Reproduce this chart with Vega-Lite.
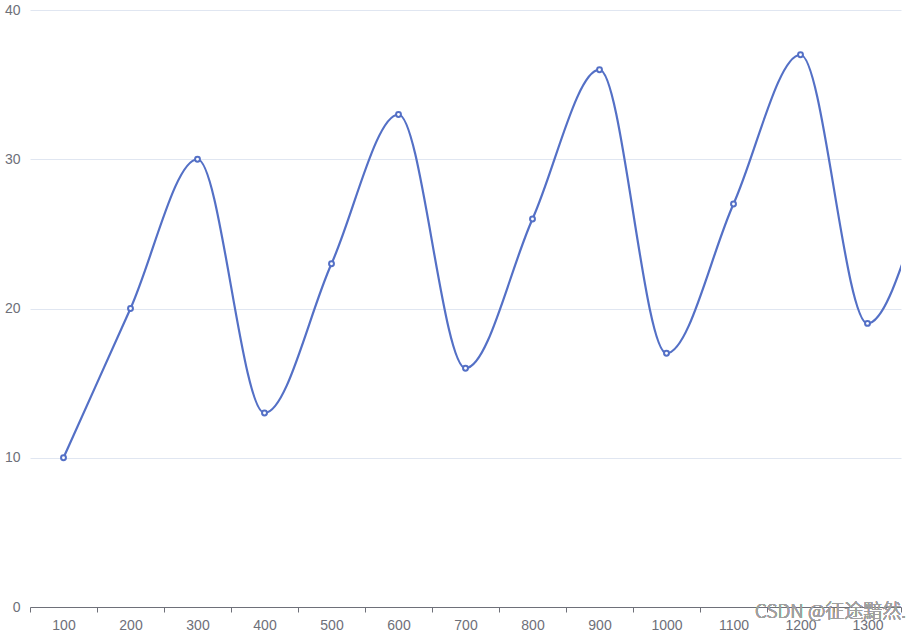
{
  "$schema": "https://vega.github.io/schema/vega-lite/v6.json",
  "width": 871,
  "height": 597,
  "autosize": {"type": "none"},
  "padding": {"left": 30, "top": 10, "right": 17, "bottom": 26},
  "background": "white",
  "config": {
    "view": {"stroke": null},
    "font": "Liberation Sans",
    "axis": {"labelFont": "Liberation Sans", "labelFontSize": 14, "labelColor": "#6E7079"}
  },
  "data": {
    "values": [
      {"x": 100, "y": 10},
      {"x": 200, "y": 20},
      {"x": 300, "y": 30},
      {"x": 400, "y": 13},
      {"x": 500, "y": 23},
      {"x": 600, "y": 33},
      {"x": 700, "y": 16},
      {"x": 800, "y": 26},
      {"x": 900, "y": 36},
      {"x": 1000, "y": 17},
      {"x": 1100, "y": 27},
      {"x": 1200, "y": 37},
      {"x": 1300, "y": 19},
      {"x": 1400, "y": 29},
      {"x": 1500, "y": 39}
    ]
  },
  "encoding": {
    "x": {
      "field": "x",
      "type": "quantitative",
      "scale": {"domain": [50, 1350], "nice": false, "zero": false},
      "axis": {
        "title": null,
        "grid": false,
        "values": [50, 100, 150, 200, 250, 300, 350, 400, 450, 500, 550, 600, 650, 700, 750, 800, 850, 900, 950, 1000, 1050, 1100, 1150, 1200, 1250, 1300, 1350],
        "labelExpr": "datum.value % 100 == 0 ? datum.label : ''",
        "format": "d",
        "tickSize": 5,
        "tickColor": "#6E7079",
        "tickOpacity": {"expr": "datum.value % 100 == 0 ? 0 : 1"},
        "domainColor": "#6E7079",
        "labelPadding": 6,
        "labelOverlap": false,
        "labelFlush": false
      }
    },
    "y": {
      "field": "y",
      "type": "quantitative",
      "scale": {"domain": [0, 40], "nice": false},
      "axis": {
        "title": null,
        "values": [0, 10, 20, 30, 40],
        "domain": false,
        "ticks": false,
        "labelPadding": 10,
        "gridColor": "#E0E6F1",
        "gridWidth": 1
      }
    }
  },
  "layer": [
    {
      "mark": {"type": "line", "interpolate": "monotone", "color": "#5470C6", "strokeWidth": 2.2, "clip": true}
    },
    {
      "mark": {"type": "point", "shape": "circle", "size": 24, "filled": true, "fill": "white", "stroke": "#5470C6", "strokeWidth": 2, "opacity": 1, "clip": true}
    },
    {
      "mark": {"type": "text", "text": "CSDN @征途黯然.", "align": "right", "baseline": "middle", "dy": 5, "dx": 5, "fontSize": 19, "fontWeight": 300, "font": "Noto Sans CJK SC", "color": "#a0a0a0", "opacity": 0.7},
      "encoding": {"x": {"datum": 1350}, "y": {"datum": 0}}
    }
  ]
}
